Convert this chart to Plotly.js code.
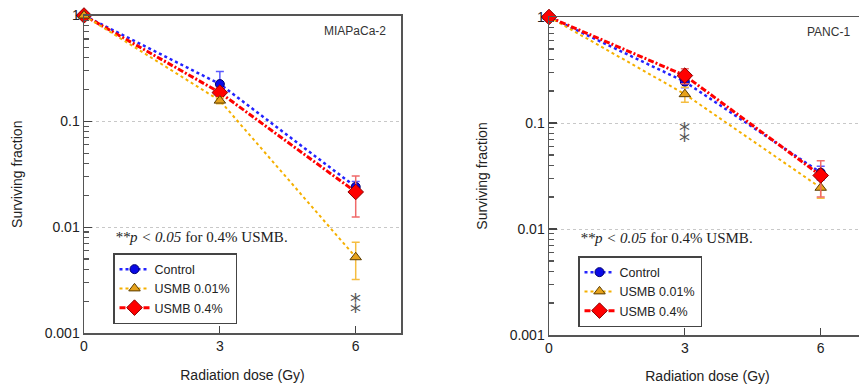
<!DOCTYPE html>
<html>
<head>
<meta charset="utf-8">
<script src="https://cdn.plot.ly/plotly-3.0.1.min.js"></script>
<style>html,body{margin:0;padding:0;overflow:hidden;background:#fff;}</style>
</head>
<body>
<div id="chart"></div>
<script>
// ---- data ----
const doses = [0, 3, 6];
const seriesNames = ["Control", "USMB 0.01%", "USMB 0.4%"];

// MIAPaCa-2
const miaControl = [1, 0.225, 0.024];
const miaControlErr = [0, 0.07, 0.003];
const miaU001 = [1, 0.157, 0.0052];
const miaU001Err = [0, 0.01, 0.002];
const miaU04 = [1, 0.187, 0.0215];
const miaU04Err = [0, 0.02, 0.009];

// PANC-1
const panControl = [1, 0.245, 0.034];
const panControlErr = [0, 0.03, 0.005];
const panU001 = [1, 0.187, 0.0245];
const panU001Err = [0, 0.03, 0.005];
const panU04 = [1, 0.28, 0.032];
const panU04Err = [0, 0.045, 0.012];

const yTickVals = [0.001, 0.01, 0.1, 1];
const yTickText = ["0.001", "0.01", "0.1", "1"];
const xTickVals = [0, 3, 6];
const panelLabels = ["MIAPaCa-2", "PANC-1"];
const noteText = "<i>**p < 0.05</i> for 0.4% USMB.";
const sigMark = "\u2051";

// ---- styles ----
const styles = [
  {line: {color: "#2323ff", width: 2.5, dash: "dot"},
   marker: {symbol: "circle", size: 9, color: "#0a0ae6", line: {color: "#00006e", width: 1}},
   err: "#5a5aff"},
  {line: {color: "#f5b000", width: 2, dash: "dot"},
   marker: {symbol: "triangle-up", size: 10, color: "#e6a21a", line: {color: "#5a3c00", width: 1}},
   err: "#f5bd40"},
  {line: {color: "#ff0000", width: 3, dash: "6px,2px,2px,2px"},
   marker: {symbol: "diamond", size: 12, color: "#ff0000", line: {color: "#8b0000", width: 1}},
   err: "#f06a6a"}
];

function mk(y, err, k, xa, ya, leg, rank) {
  const s = styles[k];
  return {
    x: doses, y: y, name: seriesNames[k], type: "scatter", mode: "lines+markers",
    xaxis: xa, yaxis: ya, legend: leg, legendrank: rank, cliponaxis: false,
    line: s.line, marker: s.marker,
    error_y: {type: "data", array: err, visible: true, color: s.err, thickness: 1.5, width: 4}
  };
}

const traces = [
  mk(miaControl, miaControlErr, 0, "x", "y", "legend", 1),
  mk(miaU04, miaU04Err, 2, "x", "y", "legend", 3),
  mk(miaU001, miaU001Err, 1, "x", "y", "legend", 2),
  mk(panControl, panControlErr, 0, "x2", "y2", "legend2", 1),
  mk(panU001, panU001Err, 1, "x2", "y2", "legend2", 2),
  mk(panU04, panU04Err, 2, "x2", "y2", "legend2", 3)
];

const W = 870, H = 384;
const minorVals = [];
[0.001, 0.01, 0.1].forEach(d => { for (let m = 2; m <= 9; m++) minorVals.push(d * m); });

const font = "Liberation Sans, Arial, sans-serif";
function xax(dom, anchor) {
  return {
    domain: dom, anchor: anchor, range: [0, 7], tickvals: xTickVals, ticks: "inside", ticklen: 7,
    tickcolor: "#444", tickwidth: 1.2, showline: true, linecolor: "#555", linewidth: 1.5, mirror: true,
    showgrid: false, zeroline: false, tickfont: {family: font, size: 14, color: "#222"},
    title: {text: "Radiation dose (Gy)", font: {family: font, size: 14, color: "#222"}, standoff: 17},
    automargin: false
  };
}
function yax(dom, anchor) {
  return {
    domain: dom, anchor: anchor, type: "log", range: [-3, 0], tickmode: "array",
    tickvals: yTickVals, ticktext: yTickText, ticks: "inside", ticklen: 8, tickcolor: "#444", tickwidth: 1.2,
    minor: {tickmode: "array", tickvals: minorVals, ticks: "inside", ticklen: 5, tickcolor: "#555", showgrid: false},
    showline: true, linecolor: "#555", linewidth: 1.5, mirror: true,
    showgrid: true, gridcolor: "#c8c8c8", griddash: "dot", gridwidth: 1, zeroline: false,
    tickfont: {family: font, size: 14, color: "#222"},
    title: {text: "Surviving fraction", font: {family: font, size: 14, color: "#222"}, standoff: 19},
    automargin: false
  };
}

const legendStyle = (x, y) => ({
  x: x, y: y, xanchor: "left", yanchor: "top", xref: "paper", yref: "paper",
  bgcolor: "#fff", bordercolor: "#444", borderwidth: 1.5,
  font: {family: font, size: 12.5, color: "#222"}, tracegroupgap: 0, itemwidth: 30
});

const annFont = {family: "Liberation Serif, Times New Roman, serif", size: 15, color: "#222"};
const starFont = {family: "DejaVu Sans, sans-serif", size: 22, color: "#555"};
const layout = {
  width: W, height: H, margin: {l: 0, r: 0, t: 0, b: 0},
  paper_bgcolor: "#fff", plot_bgcolor: "#fff", showlegend: true,
  xaxis: xax([84 / W, 401 / W], "y"),
  yaxis: yax([1 - 333 / H, 1 - 15.5 / H], "x"),
  xaxis2: xax([549 / W, 866 / W], "y2"),
  yaxis2: yax([1 - 335 / H, 1 - 17 / H], "x2"),
  legend: legendStyle(113 / W, 1 - 253 / H),
  legend2: legendStyle(578 / W, 1 - 256 / H),
  annotations: [
    {xref: "paper", yref: "paper", x: 113 / W, y: 1 - 237 / H, xanchor: "left", yanchor: "middle",
     text: noteText, showarrow: false, font: annFont},
    {xref: "paper", yref: "paper", x: 578 / W, y: 1 - 238 / H, xanchor: "left", yanchor: "middle",
     text: noteText, showarrow: false, font: annFont},
    {xref: "paper", yref: "paper", x: 388 / W, y: 1 - 31 / H, xanchor: "right", yanchor: "middle",
     text: panelLabels[0], showarrow: false, font: {family: font, size: 12, color: "#333"}},
    {xref: "paper", yref: "paper", x: 852 / W, y: 1 - 32 / H, xanchor: "right", yanchor: "middle",
     text: panelLabels[1], showarrow: false, font: {family: font, size: 12, color: "#333"}},
    {xref: "x", yref: "y", x: 6, y: -2.74, text: sigMark, showarrow: false, font: starFont},
    {xref: "x2", yref: "y2", x: 3, y: -1.11, text: sigMark, showarrow: false, font: starFont}
  ]
};

Plotly.newPlot("chart", traces, layout, {displayModeBar: false, staticPlot: true});
</script>
</body>
</html>
